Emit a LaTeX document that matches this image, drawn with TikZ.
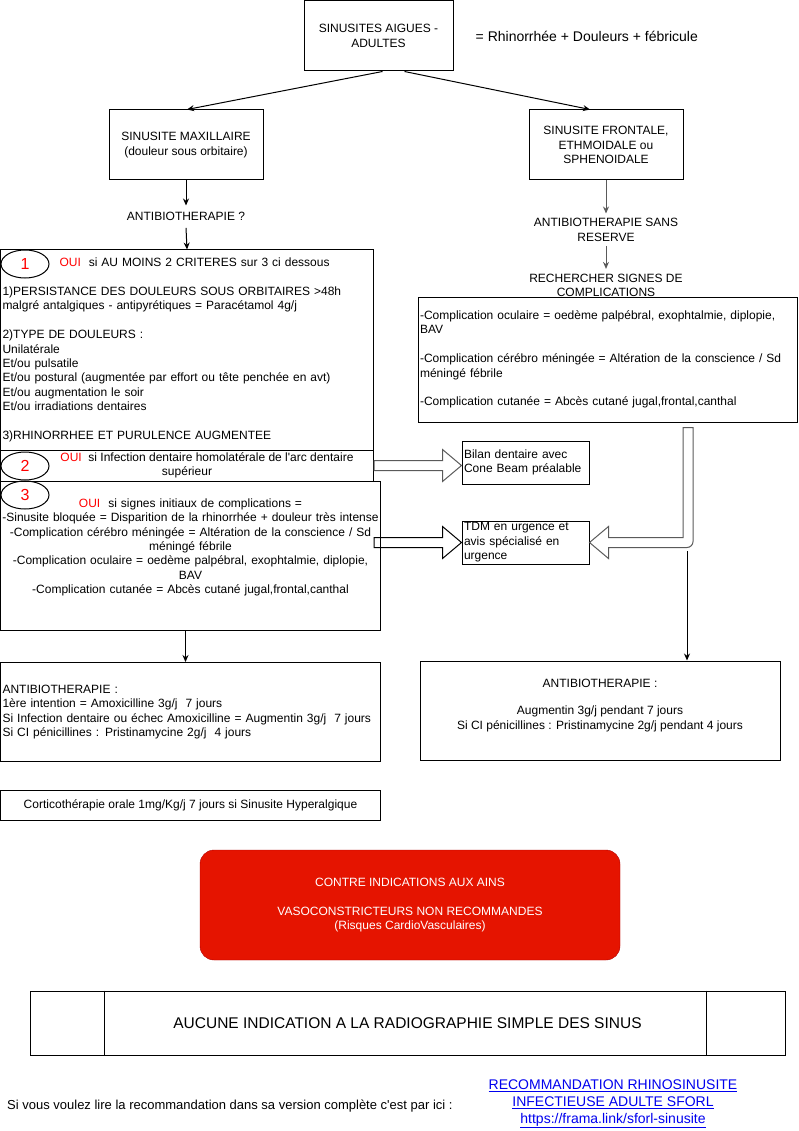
\documentclass[tikz,border=0pt]{standalone}
\usepackage{fontspec}
\setmainfont{Liberation Sans}
\usepackage{xcolor}
\usepackage{tikz}
\usetikzlibrary{arrows.meta,positioning,calc,shapes.geometric}
\definecolor{snInk}{HTML}{000000}
\definecolor{snGray}{HTML}{5A5A5A}
\definecolor{snOui}{HTML}{FF0000}
\definecolor{snRed}{HTML}{E51400}
\definecolor{snRedLine}{HTML}{B20000}
\definecolor{snLink}{HTML}{0000EE}
\newcommand{\snNormal}{\fontsize{12}{14.4}\selectfont}
\newcommand{\snLarge}{\fontsize{14}{16.8}\selectfont}
\tikzset{
  % Plain box, centred text
  bbox/.style={rectangle,draw=snInk,line width=1pt,
    inner sep=0pt,align=center,font=\snNormal},
  % Box with left aligned text
  lbox/.style={bbox,align=left},
  % Number bubble (red digit)
  numb/.style={ellipse,draw=snInk,line width=1pt,
    minimum width=48pt,minimum height=28pt,inner sep=0pt,
    text=snOui,font=\fontsize{16}{19}\selectfont},
  % Warning box (red, rounded)
  rbox/.style={rectangle,rounded corners=14pt,
    draw=snRedLine,fill=snRed,text=white,
    minimum width=420pt,minimum height=110pt,
    align=center,font=\snNormal},
  % Free text
  lbl/.style={inner sep=0pt,align=center,font=\snNormal},
  % Arrows
  arr/.style={-{Stealth[length=7pt,width=6pt]},line width=1pt,color=snInk},
  arrg/.style={-{Stealth[length=7pt,width=6pt]},line width=1pt,color=snGray},
  hol/.style={draw=snGray,line width=1pt,line join=miter},
  holk/.style={draw=snInk,line width=1pt,line join=miter},
}
\begin{document}
\begin{tikzpicture}[x=1pt,y=-1pt]
  \useasboundingbox (0,0) rectangle (799,1131);

  % Title
  \node[bbox,minimum width=149pt,minimum height=70pt] (top) at (378.5,36)
    {SINUSITES AIGUES -\\ADULTES};
  \node[lbl,font=\snLarge,right=22pt of top] (rhin)
    {= Rhinorrhée + Douleurs + fébricule};

  % Two branches
  \node[bbox,minimum width=154pt,minimum height=70pt] (maxi) at (186,145)
    {SINUSITE MAXILLAIRE\\(douleur sous orbitaire)};
  \node[bbox,minimum width=154pt,minimum height=70pt] (front) at (606,145)
    {SINUSITE FRONTALE,\\ETHMOIDALE ou\\SPHENOIDALE};

  % Left column
  \node[lbl,minimum height=22pt,below=25pt of maxi] (quest) {ANTIBIOTHERAPIE ?};

  \node[lbox,minimum width=373pt,minimum height=200pt,
    text width=369pt,inner xsep=2pt] (crit) at (187,350)
    {\hspace*{57pt}\textcolor{snOui}{OUI}\ \ si AU MOINS 2 CRITERES sur 3 ci dessous\\[14.4pt]
     1)PERSISTANCE DES DOULEURS SOUS ORBITAIRES >48h\\
     malgré antalgiques - antipyrétiques = Paracétamol 4g/j\\[14.4pt]
     2)TYPE DE DOULEURS :\\
     Unilatérale\\
     Et/ou pulsatile\\
     Et/ou postural (augmentée par effort ou tête penchée en avt)\\
     Et/ou augmentation le soir\\
     Et/ou irradiations dentaires\\[14.4pt]
     3)RHINORRHEE ET PURULENCE AUGMENTEE};

  \node[bbox,minimum width=373pt,minimum height=31pt] (dent) at (187,465.5)
    {\hspace*{40pt}\textcolor{snOui}{OUI}\ \ si Infection dentaire homolatérale de l\textquotesingle arc dentaire\\
     supérieur};

  \node[bbox,minimum width=380pt,minimum height=149pt,text width=378pt] (signs) at (190.5,555.5)
    {\textcolor{snOui}{OUI}\ \ si signes initiaux de complications =\\
     -Sinusite bloquée = Disparition de la rhinorrhée + douleur très intense\\
     -Complication cérébro méningée = Altération de la conscience / Sd\\
     méningé fébrile\\
     -Complication oculaire = oedème palpébral, exophtalmie, diplopie,\\
     BAV\\
     -Complication cutanée = Abcès cutané jugal,frontal,canthal\\
     \strut};

  \node[numb] (n1) at (25,264) {1};
  \node[numb] (n2) at (25,466) {2};
  \node[numb] (n3) at (25,495) {3};

  \node[lbox,minimum width=380pt,minimum height=99pt,
    text width=376pt,inner xsep=2pt] (abl) at (190.5,712)
    {ANTIBIOTHERAPIE :\\
     1ère intention = Amoxicilline 3g/j\ \ 7 jours\\
     Si Infection dentaire ou échec Amoxicilline = Augmentin 3g/j\ \ 7 jours\\
     Si CI pénicillines : Pristinamycine 2g/j\ \ 4 jours};

  \node[bbox,minimum width=380pt,minimum height=30pt,below=28pt of abl] (cort)
    {Corticothérapie orale 1mg/Kg/j 7 jours si Sinusite Hyperalgique};

  % Right column
  \node[lbl,minimum height=32pt,below=33pt of front] (sans)
    {ANTIBIOTHERAPIE SANS\\RESERVE};
  \node[lbl,minimum height=32pt,below=23pt of sans] (rech)
    {RECHERCHER SIGNES DE\\COMPLICATIONS};

  \node[lbox,minimum width=379pt,minimum height=125pt,
    text width=375pt,inner xsep=2pt] (comp) at (607.5,359.5)
    {-Complication oculaire = oedème palpébral, exophtalmie, diplopie,\\
     BAV\\[14.4pt]
     -Complication cérébro méningée = Altération de la conscience / Sd\\
     méningé fébrile\\[14.4pt]
     -Complication cutanée = Abcès cutané jugal,frontal,canthal};

  \node[lbox,minimum width=127pt,minimum height=43pt,
    text width=123pt,inner xsep=2pt] (bilan) at (525.5,462.5)
    {Bilan dentaire avec\\Cone Beam préalable};
  \node[lbox,minimum width=127pt,minimum height=43pt,
    text width=123pt,inner xsep=2pt] (tdm) at (525.5,542.5)
    {TDM en urgence et\\avis spécialisé en\\urgence};

  \node[bbox,minimum width=360pt,minimum height=99pt] (abr) at (600,710.5)
    {ANTIBIOTHERAPIE :\\[13pt]
     Augmentin 3g/j pendant 7 jours\\
     Si CI pénicillines : Pristinamycine 2g/j pendant 4 jours\\[-6pt]
     \strut};

  % Warnings
  \node[rbox] (ains) at (410,905)
    {CONTRE INDICATIONS AUX AINS\\[14.4pt]
     VASOCONSTRICTEURS NON RECOMMANDES\\
     (Risques CardioVasculaires)};

  \node[bbox,minimum width=755pt,minimum height=64pt,
    font=\fontsize{15.5}{18}\selectfont] (radio) at (407.5,1023)
    {AUCUNE INDICATION A LA RADIOGRAPHIE SIMPLE DES SINUS};
  \draw[line width=1pt] ([xshift=75pt]radio.north west) -- ([xshift=75pt]radio.south west);
  \draw[line width=1pt] ([xshift=-79pt]radio.north east) -- ([xshift=-79pt]radio.south east);

  % Reference
  \node[lbl,anchor=west,font=\fontsize{13}{15.6}\selectfont] (note) at (7,1106)
    {Si vous voulez lire la recommandation dans sa version complète c\textquotesingle est par ici :};
  \node[lbl,font=\snLarge,text=snLink] (link) at (613,1104)
    {\underline{RECOMMANDATION RHINOSINUSITE}\\
     \underline{INFECTIEUSE ADULTE SFORL}\\
     \underline{https://frama.link/sforl-sinusite}};

  % Arrows
  \draw[arr] ([xshift=4pt]top.south) -- ([xshift=1pt]maxi.north);
  \draw[arr] ([xshift=26pt]top.south) -- ([xshift=-16pt]front.north);
  \draw[arr] (maxi.south) -- (quest.north);
  \draw[arr] (quest.south) -- (crit.north);
  \draw[arr] ([xshift=-5pt]signs.south) -- ([xshift=-5pt]abl.north);
  \draw[arrg] (front.south) -- (sans.north);
  \draw[arrg] (sans.south) -- (rech.north);
  \coordinate (rstart) at (687,551);
  \draw[arr] (rstart) -- (rstart |- abr.north);

  % Hollow arrows
  \draw[hol] ($(dent.east)+(0,-5)$) -- ($(bilan.west |- dent.east)+(-19,-5)$)
    -- ++(0,-11) -- (bilan.west |- dent.east) -- ++(-19,16) -- ++(0,-11)
    -- ($(dent.east)+(0,5)$) -- cycle;
  \draw[holk] ($(signs.east |- tdm.west)+(-7,-5)$) -- ($(tdm.west)+(-19,-5)$)
    -- ++(0,-11) -- (tdm.west) -- ++(-19,16) -- ++(0,-11)
    -- ($(signs.east |- tdm.west)+(-7,5)$) -- cycle;
  \coordinate (elbow) at (688,0 |- tdm.east);
  \draw[hol] ($(elbow |- comp.south)+(-5,5)$) -- ($(elbow |- comp.south)+(5,5)$)
    [rounded corners=6pt] -- ($(elbow)+(5,5)$) [sharp corners] -- ($(tdm.east)+(19,5)$)
    -- ++(0,11) -- (tdm.east) -- ++(19,-16) -- ++(0,11)
    -- ($(elbow)+(-5,-5)$) -- cycle;
\end{tikzpicture}
\end{document}
